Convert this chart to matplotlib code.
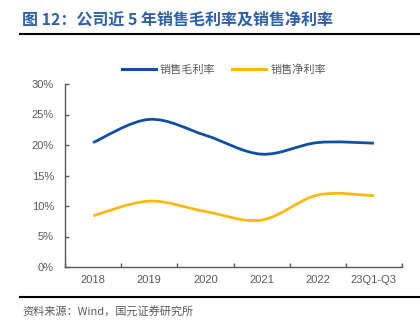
import matplotlib
matplotlib.use("Agg")
import matplotlib.pyplot as plt
from matplotlib.path import Path
from matplotlib.patches import PathPatch
from matplotlib.lines import Line2D
import numpy as np

categories = ["2018", "2019", "2020", "2021", "2022", "23Q1-Q3"]
gross_margin = [20.4, 24.2, 21.6, 18.5, 20.4, 20.3]
net_margin = [8.4, 10.8, 9.1, 7.7, 11.8, 11.7]
y_ticks = [0, 5, 10, 15, 20, 25, 30]
series_names = ["销售毛利率", "销售净利率"]

BLUE = "#0F4FA3"
GOLD = "#FFB810"
GREY = "#595959"
CJK = ["Noto Sans CJK SC", "DejaVu Sans"]
LATIN = ["Liberation Sans", "DejaVu Sans"]

fig = plt.figure(figsize=(4.2, 3.32), dpi=100)
ax = fig.add_axes([65 / 420, 1 - 267 / 332, 337 / 420, 183 / 332])


def smooth_path(xs, ys):
    # Cardinal-style Bezier smoothing through each data point
    pts = np.column_stack([xs, ys]).astype(float)
    n = len(pts)
    verts = [tuple(pts[0])]
    codes = [Path.MOVETO]
    for i in range(n - 1):
        p0 = pts[max(i - 1, 0)]
        p1 = pts[i]
        p2 = pts[i + 1]
        p3 = pts[min(i + 2, n - 1)]
        c1 = p1 + (p2 - p0) / 6.0
        c2 = p2 - (p3 - p1) / 6.0
        verts += [tuple(c1), tuple(c2), tuple(p2)]
        codes += [Path.CURVE4] * 3
    return Path(verts, codes)


x = np.arange(len(categories))
for vals, col in [(gross_margin, BLUE), (net_margin, GOLD)]:
    patch = PathPatch(smooth_path(x, vals), facecolor="none", edgecolor=col,
                      lw=2.0, capstyle="butt", transform=ax.transData)
    ax.add_patch(patch)

ax.set_xlim(-0.5, len(categories) - 0.5)
ax.set_ylim(0, 30)
ax.set_yticks(y_ticks)
ax.set_yticklabels([f"{v}%" for v in y_ticks], family=LATIN, fontsize=8, color=GREY)
ax.set_xticks(np.arange(-0.5, len(categories), 1.0))
ax.set_xticklabels([])
ax.set_xticks(x, minor=True)
ax.set_xticklabels(categories, minor=True, family=LATIN, fontsize=8, color=GREY)
ax.tick_params(axis="x", which="major", direction="in", length=3, color=GREY, width=1)
ax.tick_params(axis="x", which="minor", length=0, pad=6)
ax.tick_params(axis="y", direction="in", length=3, color=GREY, width=1, pad=8)
for s in ["top", "right"]:
    ax.spines[s].set_visible(False)
for s in ["left", "bottom"]:
    ax.spines[s].set_color(GREY)
    ax.spines[s].set_linewidth(1.0)

handles = [Line2D([], [], color=BLUE, lw=2.2), Line2D([], [], color=GOLD, lw=2.2)]
fig.legend(handles, series_names, loc="center", bbox_to_anchor=(224 / 420, 1 - 70 / 332),
           ncol=2, frameon=False, handlelength=3.0, handletextpad=0.4, columnspacing=1.5,
           prop={"family": CJK, "size": 8}, labelcolor=GREY)

fig.text(22 / 420, 1 - 20 / 332, "图 12：公司近 5 年销售毛利率及销售净利率", family=CJK,
         fontsize=11.5, fontweight="bold", color="#2F5FA8", ha="left", va="center")
fig.add_artist(Line2D([20 / 420, 1.0], [1 - 34 / 332] * 2, color="black", lw=1.5))
fig.add_artist(Line2D([20 / 420, 1.0], [1 - 297 / 332] * 2, color="black", lw=1.5))
fig.text(22 / 420, 1 - 311 / 332, "资料来源：Wind，国元证券研究所", family=CJK,
         fontsize=8, color=GREY, ha="left", va="center")

fig.savefig("out.png", dpi=100)
